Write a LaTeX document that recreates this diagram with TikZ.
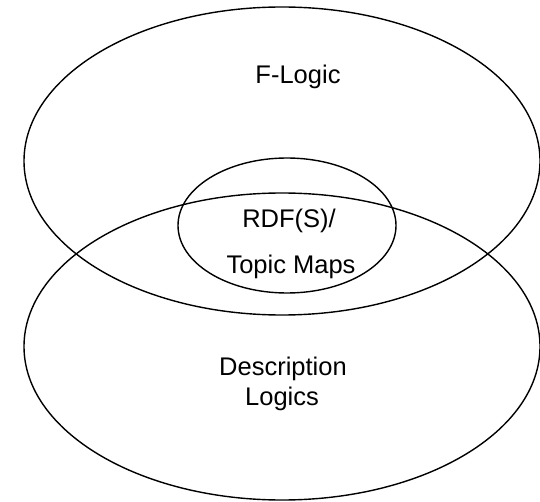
\documentclass[tikz,border=0pt]{standalone}
\usepackage{fontspec}
\setmainfont{Liberation Sans}
\usetikzlibrary{calc}

\begin{document}
\begin{tikzpicture}[x=1pt, y=-1pt, line width=1.4pt,
	label/.style={inner sep=0pt, font=\fontsize{25.5}{30}\selectfont}]

% parameters %{{{2

	\def\bigrx{258}
	\def\upperry{154}
	\def\lowerry{153.5}
	\def\innerrx{109}
	\def\innerry{67.5}

	\useasboundingbox (0,0) rectangle (540,502);

% coordinates %{{{2

	\coordinate (F) at (282,161);
	\coordinate (D) at (282,346.5);
	\coordinate (R) at (287,225.5);

% ellipses %{{{2

	\draw (F) ellipse [x radius=\bigrx, y radius=\upperry];
	\draw (D) ellipse [x radius=\bigrx, y radius=\lowerry];
	\draw (R) ellipse [x radius=\innerrx, y radius=\innerry];

% labels %{{{2

	\node[label] (flogic) at (298,77) {F-Logic};
	\node[label] (rdfs) at (289,221) {RDF(S)/};
	\node[label] (topicmaps) at (291,267) {Topic Maps};
	\node[label] (descr) at (283,369) {Description};
	\node[label] (logics) at (282,399) {Logics};

% closing %{{{2

\end{tikzpicture}
\end{document}
